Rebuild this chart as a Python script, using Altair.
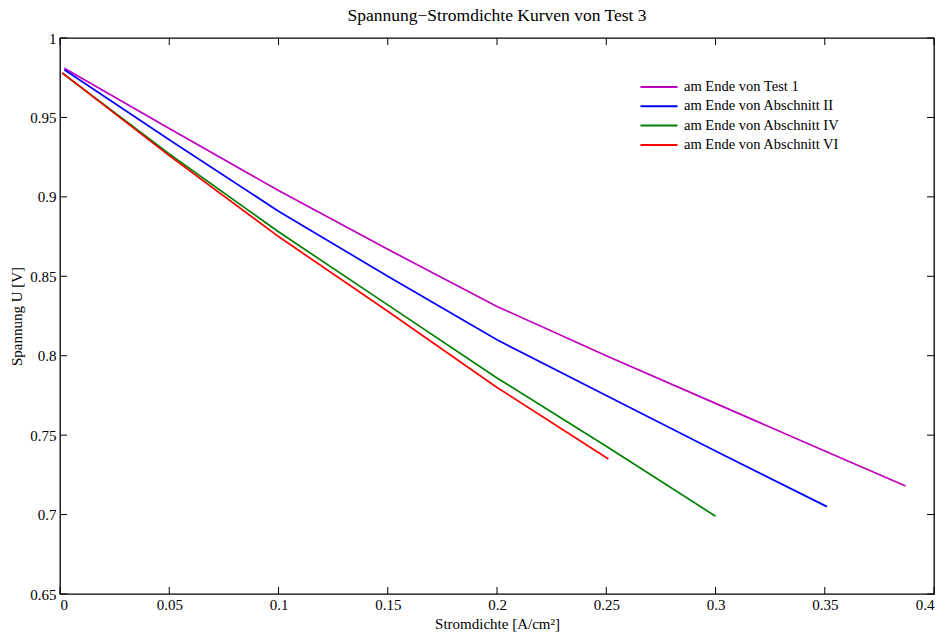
import altair as alt
import pandas as pd

# ---- data ----
series = ["am Ende von Test 1", "am Ende von Abschnitt  II",
          "am Ende von Abschnitt IV", "am Ende von Abschnitt VI"]
colors = ["#BF00BF", "#0000FF", "#008000", "#FF0000"]

x_test1 = [0.002, 0.05, 0.1, 0.15, 0.2, 0.25, 0.3, 0.35, 0.387]
u_test1 = [0.981, 0.943, 0.904, 0.867, 0.831, 0.800, 0.770, 0.740, 0.718]

x_ab2 = [0.002, 0.05, 0.1, 0.15, 0.2, 0.25, 0.3, 0.351]
u_ab2 = [0.980, 0.936, 0.891, 0.850, 0.810, 0.775, 0.740, 0.705]

x_ab4 = [0.001, 0.05, 0.1, 0.15, 0.2, 0.25, 0.3]
u_ab4 = [0.978, 0.927, 0.878, 0.832, 0.786, 0.743, 0.699]

x_ab6 = [0.001, 0.05, 0.1, 0.15, 0.2, 0.251]
u_ab6 = [0.978, 0.926, 0.875, 0.828, 0.780, 0.735]

x_ticks = [0, 0.05, 0.1, 0.15, 0.2, 0.25, 0.3, 0.35, 0.4]
y_ticks = [0.65, 0.7, 0.75, 0.8, 0.85, 0.9, 0.95, 1.0]

x_title = "Stromdichte [A/cm²]"
y_title = "Spannung U [V]"

rows = []
for name, xs_, us_ in zip(series, [x_test1, x_ab2, x_ab4, x_ab6],
                          [u_test1, u_ab2, u_ab4, u_ab6]):
    for i, (xv, uv) in enumerate(zip(xs_, us_)):
        rows.append({"series": name, "x": xv, "u": uv, "i": i})
df = pd.DataFrame(rows)
df_xt = pd.DataFrame({"x": x_ticks})
df_yt = pd.DataFrame({"u": y_ticks})

W, H = 874, 556
TL = 7  # inward tick length (px)
FONT = "Liberation Serif"

xs = alt.Scale(domain=[0, 0.4], nice=False, zero=False)
ys = alt.Scale(domain=[0.65, 1.0], nice=False, zero=False)

lab = dict(labelFont=FONT, labelFontSize=15, labelColor="#000000",
           titleFont=FONT, titleFontSize=15, titleFontWeight="normal",
           titleColor="#000000")

x_axis = alt.Axis(orient="bottom", values=x_ticks, format="~g",
                  ticks=False, domain=False, grid=False,
                  labelPadding=3, titlePadding=4, **lab)
y_axis = alt.Axis(orient="left", values=y_ticks, format="~g",
                  ticks=False, domain=False, grid=False,
                  labelPadding=4, titlePadding=5, **lab)

X = alt.X("x:Q", scale=xs, title=x_title, axis=x_axis)
Y = alt.Y("u:Q", scale=ys, title=y_title, axis=y_axis)

lines = alt.Chart(df).mark_line(strokeWidth=1.7).encode(
    x=X, y=Y,
    color=alt.Color("series:N", scale=alt.Scale(domain=series, range=colors),
                    legend=alt.Legend(title=None, orient="none",
                                      legendX=591, legendY=41,
                                      symbolType="M-2.65,0H2.65",
                                      symbolSize=196,
                                      symbolStrokeWidth=2, labelFontSize=14.5,
                                      labelFont=FONT, labelColor="#000000",
                                      rowPadding=4.3,
                                      padding=0, labelOffset=17)),
    order="i:Q",
)

rule = dict(color="#000000", strokeWidth=1)
xt_bottom = alt.Chart(df_xt).mark_rule(**rule).encode(
    x=X, y=alt.value(H), y2=alt.value(H - TL))
xt_top = alt.Chart(df_xt).mark_rule(**rule).encode(
    x=X, y=alt.value(0), y2=alt.value(TL))
yt_left = alt.Chart(df_yt).mark_rule(**rule).encode(
    y=Y, x=alt.value(0), x2=alt.value(TL))
yt_right = alt.Chart(df_yt).mark_rule(**rule).encode(
    y=Y, x=alt.value(W), x2=alt.value(W - TL))

chart = alt.layer(lines, xt_bottom, xt_top, yt_left, yt_right).properties(
    width=W, height=H,
    background="white",
    title=alt.TitleParams("Spannung−Stromdichte Kurven von Test 3",
                          font=FONT, fontSize=17.5, fontWeight="normal",
                          color="#000000", anchor="middle", offset=7),
    autosize=alt.AutoSizeParams(type="none"),
    padding={"left": 52, "top": 30, "right": 3, "bottom": 40},
).configure_view(
    stroke="#000000", strokeWidth=1.3
).configure_axis(
    labelFont=FONT, titleFont=FONT
)

chart.save("out.html", embed_options={"renderer": "svg", "actions": False})
